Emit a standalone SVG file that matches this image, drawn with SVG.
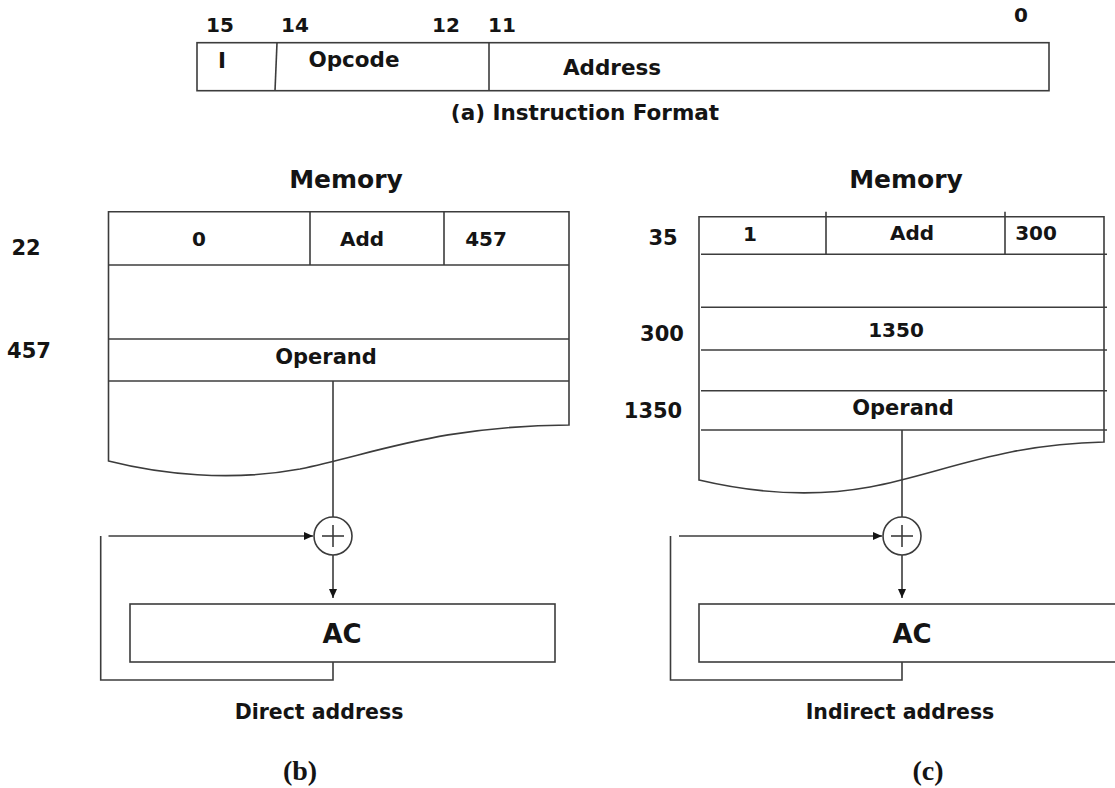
<svg xmlns="http://www.w3.org/2000/svg" width="1115" height="788" viewBox="0 0 1115 788">
  <style>
    .ln { fill: none; stroke: #3c3c3c; stroke-width: 1.6; }
    .bx { fill: #ffffff; stroke: #3c3c3c; stroke-width: 1.6; }
    .t { font-family: "DejaVu Sans", "Liberation Sans", sans-serif; font-weight: bold; fill: #141414; text-anchor: middle; }
    .n { font-size: 20px; }
    .c { font-size: 20px; }
    .h { font-size: 25px; }
    .cap { font-size: 20.5px; }
    .fig { font-family: "Liberation Serif", serif; font-weight: bold; font-size: 28px; fill: #141414; text-anchor: middle; }
  </style>
  <defs>
    <marker id="arrow" markerWidth="9" markerHeight="8" refX="9" refY="4" orient="auto" markerUnits="userSpaceOnUse">
      <path d="M0,0 L9,4 L0,8 Z" fill="#141414"/>
    </marker>
  </defs>
  <rect width="1115" height="788" fill="#ffffff"/>

  <!-- (a) instruction word layout -->
  <g id="instruction-format">
    <text class="t n" x="220" y="32">15</text>
    <text class="t n" x="295" y="32">14</text>
    <text class="t n" x="446" y="32">12</text>
    <text class="t n" x="502" y="32">11</text>
    <text class="t n" x="1021" y="22">0</text>
    <rect class="bx" x="197" y="42.7" width="852" height="48"/>
    <line class="ln" x1="277" y1="42.7" x2="275" y2="90.7"/>
    <line class="ln" x1="489" y1="42.7" x2="489" y2="90.7"/>
    <text class="t" style="font-size:21.5px" x="222" y="68">I</text>
    <text class="t" style="font-size:21.5px" x="354" y="67">Opcode</text>
    <text class="t" style="font-size:21.5px" x="612" y="75">Address</text>
    <text class="t" style="font-size:21.5px" x="585" y="120">(a) Instruction Format</text>
  </g>

  <!-- (b) direct addressing: memory -->
  <g id="memory-direct">
    <text class="t h" x="346" y="188">Memory</text>
    <path class="bx" d="M108.5,211.7 H569 V425 C440,426 380,452 300,469 C230,482 160,474 108.5,461 Z"/>
    <line class="ln" x1="108.5" y1="265" x2="569" y2="265"/>
    <line class="ln" x1="310" y1="211.7" x2="310" y2="265"/>
    <line class="ln" x1="444" y1="211.7" x2="444" y2="265"/>
    <line class="ln" x1="108.5" y1="339" x2="569" y2="339"/>
    <line class="ln" x1="108.5" y1="381" x2="569" y2="381"/>
    <text class="t c" x="199" y="246">0</text>
    <text class="t c" x="362" y="246">Add</text>
    <text class="t c" x="486" y="246">457</text>
    <text class="t c" style="font-size:21px" x="326" y="364">Operand</text>
    <text class="t c" style="font-size:21px" x="26" y="255">22</text>
    <text class="t c" style="font-size:21px" x="29" y="358">457</text>
  </g>

  <!-- (b) adder and accumulator -->
  <g id="adder-direct">
    <circle class="bx" cx="333" cy="536" r="19"/>
    <line class="ln" x1="322" y1="536" x2="344" y2="536"/>
    <line class="ln" x1="333" y1="525" x2="333" y2="547"/>
  </g>
  <g id="ac-direct">
    <rect class="bx" x="130" y="604" width="425" height="58"/>
    <text class="t" style="font-size:26px" x="342" y="643">AC</text>
  </g>
  <text class="t cap" x="319" y="719">Direct address</text>
  <text class="fig" x="300" y="780">(b)</text>

  <!-- (c) indirect addressing: memory -->
  <g id="memory-indirect">
    <text class="t h" x="906" y="188">Memory</text>
    <path class="bx" d="M699,216.7 H1104 V442 C1000,444 940,474 870,487 C810,498 750,492 699,480 Z"/>
    <line class="ln" x1="826" y1="211.7" x2="826" y2="254.3"/>
    <line class="ln" x1="1005" y1="211.7" x2="1005" y2="254.3"/>
    <line class="ln" x1="701" y1="254.3" x2="1107" y2="254.3"/>
    <line class="ln" x1="701" y1="307.3" x2="1107" y2="307.3"/>
    <line class="ln" x1="701" y1="350" x2="1107" y2="350"/>
    <line class="ln" x1="701" y1="390.7" x2="1107" y2="390.7"/>
    <line class="ln" x1="701" y1="430" x2="1107" y2="430"/>
    <text class="t c" x="750" y="241">1</text>
    <text class="t c" x="912" y="240">Add</text>
    <text class="t c" x="1036" y="240">300</text>
    <text class="t c" x="896" y="337">1350</text>
    <text class="t c" style="font-size:21px" x="903" y="415">Operand</text>
    <text class="t c" style="font-size:21px" x="663" y="245">35</text>
    <text class="t c" style="font-size:21px" x="662" y="341">300</text>
    <text class="t c" style="font-size:21px" x="653" y="418">1350</text>
  </g>

  <!-- (c) adder and accumulator -->
  <g id="adder-indirect">
    <circle class="bx" cx="902" cy="536" r="19"/>
    <line class="ln" x1="891" y1="536" x2="913" y2="536"/>
    <line class="ln" x1="902" y1="525" x2="902" y2="547"/>
  </g>
  <g id="ac-indirect">
    <rect class="bx" x="699" y="604" width="430" height="58"/>
    <text class="t" style="font-size:26px" x="912" y="643">AC</text>
  </g>
  <text class="t cap" x="900" y="719">Indirect address</text>
  <text class="fig" x="928" y="780">(c)</text>

  <!-- data paths -->
  <g id="connectors">
    <line class="ln" x1="333" y1="381" x2="333" y2="517"/>
    <line class="ln" x1="108.5" y1="536" x2="313" y2="536" marker-end="url(#arrow)"/>
    <line class="ln" x1="333" y1="555" x2="333" y2="598" marker-end="url(#arrow)"/>
    <polyline class="ln" points="100.7,536 100.7,680 333,680 333,662"/>

    <line class="ln" x1="902" y1="430" x2="902" y2="517"/>
    <line class="ln" x1="679" y1="536" x2="882" y2="536" marker-end="url(#arrow)"/>
    <line class="ln" x1="902" y1="555" x2="902" y2="598" marker-end="url(#arrow)"/>
    <polyline class="ln" points="670.5,536 670.5,680 902,680 902,662"/>
  </g>
</svg>
